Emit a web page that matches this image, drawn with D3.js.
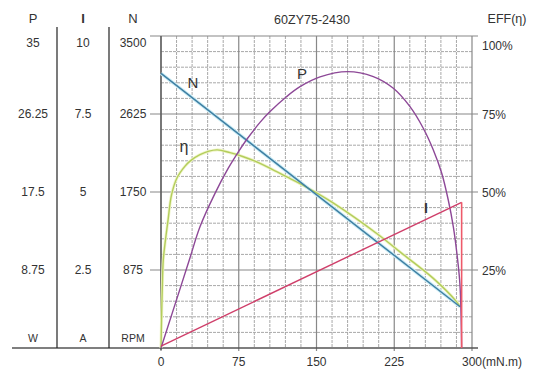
<!DOCTYPE html>
<html><head><meta charset="utf-8">
<script src="https://cdn.jsdelivr.net/npm/d3@7"></script>
<style>
html,body{margin:0;padding:0;background:#fff;}
svg{display:block;}
text{font-family:"Liberation Sans",Arial,Helvetica,sans-serif;fill:#333;}
</style></head>
<body>
<svg id="c" width="535" height="374"></svg>
<script>
// ---- data ----
const title = "60ZY75-2430";
const torqueTicks = [0, 75, 150, 225, 300];
const torqueTickLabels = ["0", "75", "150", "225", "300(mN.m)"];
const pTickLabels = ["35", "26.25", "17.5", "8.75"];
const iTickLabels = ["10", "7.5", "5", "2.5"];
const nTickLabels = ["3500", "2625", "1750", "875"];
const effTickLabels = ["100%", "75%", "50%", "25%"];
const pTickVals = [35, 26.25, 17.5, 8.75];
const effTickVals = [100, 75, 50, 25];

// speed N (RPM)
const speedTorque = [0, 288.5];
const speedVals = [3080, 463];
// current I (A)
const currentTorque = [0, 290, 290];
const currentVals = [0.06, 4.67, 0];
// output power P (W)
const powerTorque = [0, 27.3, 37.6, 52.1, 64.9, 74.6, 83.2, 95.5, 105.2, 121.3, 134.1, 153.4, 180, 204.8, 224.1, 240.2, 253.0, 262.7, 270.8, 277.1, 282, 285.8, 288.4, 290];
const powerVals   = [0, 9.87, 13.6, 17.35, 20.17, 22.01, 23.47, 25.31, 26.52, 28.21, 29.31, 30.41, 31.0, 30.44, 29.13, 27.07, 24.65, 22.21, 19.6, 16.6, 13.6, 10.24, 7.07, 0];
// efficiency (%)
const effTorque = [0, 0.5, 1.2, 2.2, 4.3, 6.8, 10.1, 15.4, 23.2, 28, 37.6, 53.7, 66.6, 79.4, 95.5, 111.6, 127.6, 138.9, 166, 211.3, 230.5, 262.4, 285.2, 288.5];
const effVals   = [0, 9, 18.6, 28.2, 34.6, 41, 49, 54.5, 58.3, 59.9, 62.0, 63.5, 62.6, 61.3, 59.2, 56.5, 53.8, 51.8, 46.5, 35.9, 30.8, 22.4, 14.8, 13.2];

// ---- layout ----
const svg = d3.select("#c");
const X0 = 161, X1 = 472, Y0 = 348, Y1 = 36;
const x = d3.scaleLinear().domain([0, 300]).range([X0, X1]);
const yP = d3.scaleLinear().domain([0, 35]).range([Y0, Y1]);
const yI = d3.scaleLinear().domain([0, 10]).range([Y0, Y1]);
const yN = d3.scaleLinear().domain([0, 3500]).range([Y0, Y1]);
const yE = d3.scaleLinear().domain([0, 100]).range([Y0, Y1]);

// grid
const g = svg.append("g");
const minorX = d3.range(0, 301, 15);
const minorY = d3.range(0, 101, 5);
g.selectAll(".vx").data(minorX.filter(v => v % 75 !== 0)).join("line")
  .attr("x1", d => x(d)).attr("x2", d => x(d)).attr("y1", Y1).attr("y2", Y0)
  .attr("stroke", "#a8a8a8").attr("stroke-width", 1).attr("stroke-dasharray", "3,1");
g.selectAll(".hy").data(minorY.filter(v => v % 25 !== 0)).join("line")
  .attr("x1", X0).attr("x2", X1).attr("y1", d => yE(d)).attr("y2", d => yE(d))
  .attr("stroke", "#a8a8a8").attr("stroke-width", 1).attr("stroke-dasharray", "3,1");
g.selectAll(".mx").data(torqueTicks).join("line")
  .attr("x1", d => x(d)).attr("x2", d => x(d)).attr("y1", Y1).attr("y2", Y0 + 3)
  .attr("stroke", "#888").attr("stroke-width", 1.2);
g.selectAll(".my").data([25, 50, 75, 100]).join("line")
  .attr("x1", X0 - 11).attr("x2", X1 + 6).attr("y1", d => yE(d)).attr("y2", d => yE(d))
  .attr("stroke", "#888").attr("stroke-width", 1.2);
// axes borders
svg.append("line").attr("x1", X0).attr("x2", X0).attr("y1", Y1).attr("y2", Y0 + 2).attr("stroke", "#555").attr("stroke-width", 1.3);
svg.append("line").attr("x1", 12).attr("x2", X1 + 6).attr("y1", Y0).attr("y2", Y0).attr("stroke", "#555").attr("stroke-width", 1.3);

// left column separators
[57, 109].forEach(px => svg.append("line").attr("x1", px).attr("x2", px).attr("y1", 27).attr("y2", Y0).attr("stroke", "#222").attr("stroke-width", 1.2));

// left labels
const cols = [
  {cx: 33, head: "P", labels: pTickLabels, unit: "W", bold: false},
  {cx: 83, head: "I", labels: iTickLabels, unit: "A", bold: true},
  {cx: 133, head: "N", labels: nTickLabels, unit: "RPM", bold: false}
];
cols.forEach(c => {
  svg.append("text").attr("x", c.cx).attr("y", 20).attr("text-anchor", "middle").attr("dominant-baseline", "middle")
    .attr("font-size", 13).attr("font-weight", c.bold ? "bold" : "normal").attr("fill", c.bold ? "#111" : "#333").text(c.head);
  svg.selectAll(null).data(c.labels).join("text")
    .attr("x", c.cx).attr("y", (d, i) => i === 0 ? 44 : yP(pTickVals[i]) + 1)
    .attr("text-anchor", "middle").attr("dominant-baseline", "middle").attr("font-size", 12).text(d => d);
  svg.append("text").attr("x", c.cx).attr("y", 339).attr("text-anchor", "middle").attr("dominant-baseline", "middle")
    .attr("font-size", 10.5).text(c.unit);
});

// title and right labels
svg.append("text").attr("x", 312).attr("y", 21).attr("text-anchor", "middle").attr("dominant-baseline", "middle").attr("font-size", 12.5).text(title);
svg.append("text").attr("x", 507).attr("y", 20).attr("text-anchor", "middle").attr("dominant-baseline", "middle").attr("font-size", 12.5).text("EFF(η)");
svg.selectAll(".el").data(effTickLabels).join("text")
  .attr("x", 482).attr("y", (d, i) => i === 0 ? 47 : yE(effTickVals[i]) + 2)
  .attr("dominant-baseline", "middle").attr("font-size", 12).text(d => d);

// bottom labels
svg.selectAll(".xl").data(torqueTicks).join("text")
  .attr("x", (d, i) => i === 4 ? x(d) - 10 : x(d)).attr("y", 363)
  .attr("text-anchor", (d, i) => i === 4 ? "start" : "middle").attr("dominant-baseline", "middle")
  .attr("font-size", 12).text((d, i) => torqueTickLabels[i]);

// ---- curves ----
const smooth = d3.curveCatmullRom.alpha(0.5);
const lineN = d3.line().x(d => x(d[0])).y(d => yN(d[1]));
const lineI = d3.line().x(d => x(d[0])).y(d => yI(d[1]));
const lineP = d3.line().x(d => x(d[0])).y(d => yP(d[1])).curve(smooth);
const lineE = d3.line().x(d => x(d[0])).y(d => yE(d[1])).curve(smooth);

const effData = d3.zip(effTorque, effVals);
const spdData = d3.zip(speedTorque, speedVals);
svg.append("path").attr("d", lineE(effData)).attr("fill", "none").attr("stroke", "#f0f5c8").attr("stroke-width", 3);
svg.append("path").attr("d", lineN(spdData)).attr("fill", "none").attr("stroke", "#cdeef6").attr("stroke-width", 3.5);
svg.append("path").attr("d", lineE(effData)).attr("fill", "none").attr("stroke", "#b3cd5c").attr("stroke-width", 1.4);
svg.append("path").attr("d", lineN(spdData)).attr("fill", "none").attr("stroke", "#3f7fa3").attr("stroke-width", 1.5);
svg.append("path").attr("d", lineP(d3.zip(powerTorque, powerVals))).attr("fill", "none").attr("stroke", "#8d4897").attr("stroke-width", 1.4);
const curData = d3.zip(currentTorque, currentVals);
svg.append("path").attr("d", lineI(curData.slice(0, 2))).attr("fill", "none").attr("stroke", "#cf3f6a").attr("stroke-width", 1.4);
svg.append("path").attr("d", lineI(curData.slice(1))).attr("fill", "none").attr("stroke", "#ee5a6a").attr("stroke-width", 1.6);

// curve labels
svg.append("text").attr("x", 193).attr("y", 84).attr("text-anchor", "middle").attr("dominant-baseline", "middle").attr("font-size", 15).attr("fill", "#2f4f66").text("N");
svg.append("text").attr("x", 302).attr("y", 75).attr("text-anchor", "middle").attr("dominant-baseline", "middle").attr("font-size", 15).attr("fill", "#333").text("P");
svg.append("text").attr("x", 184).attr("y", 148).attr("text-anchor", "middle").attr("dominant-baseline", "middle").attr("font-size", 16).attr("fill", "#333").text("η");
svg.append("text").attr("x", 426).attr("y", 209).attr("text-anchor", "middle").attr("dominant-baseline", "middle").attr("font-size", 14).attr("font-weight", "bold").attr("fill", "#111").text("I");
</script>
</body></html>
